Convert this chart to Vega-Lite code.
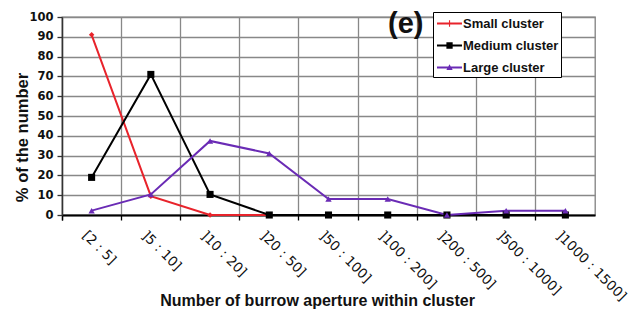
{
  "$schema": "https://vega.github.io/schema/vega-lite/v6.json",
  "width": 533,
  "height": 198,
  "autosize": {"type": "none"},
  "padding": {"left": 62, "top": 17, "right": 38, "bottom": 106},
  "background": "white",
  "config": {
    "view": {"stroke": "#808080", "strokeWidth": 1.3},
    "font": "Liberation Sans"
  },
  "title": {
    "text": "(e)",
    "orient": "top",
    "anchor": "start",
    "frame": "group",
    "offset": 0,
    "baseline": "middle",
    "dx": 326,
    "dy": 42,
    "fontSize": 29,
    "fontWeight": "bold",
    "color": "#111111"
  },
  "data": {
    "values": [
      {"bin": "[2 : 5]", "cluster": "Small cluster", "pct": 91},
      {"bin": "]5 : 10]", "cluster": "Small cluster", "pct": 9.5},
      {"bin": "]10 : 20]", "cluster": "Small cluster", "pct": 0},
      {"bin": "]20 : 50]", "cluster": "Small cluster", "pct": 0},
      {"bin": "[2 : 5]", "cluster": "Medium cluster", "pct": 19},
      {"bin": "]5 : 10]", "cluster": "Medium cluster", "pct": 71},
      {"bin": "]10 : 20]", "cluster": "Medium cluster", "pct": 10.4},
      {"bin": "]20 : 50]", "cluster": "Medium cluster", "pct": 0},
      {"bin": "]50 : 100]", "cluster": "Medium cluster", "pct": 0},
      {"bin": "]100 : 200]", "cluster": "Medium cluster", "pct": 0},
      {"bin": "]200 : 500]", "cluster": "Medium cluster", "pct": 0},
      {"bin": "]500 : 1000]", "cluster": "Medium cluster", "pct": 0},
      {"bin": "]1000 : 1500]", "cluster": "Medium cluster", "pct": 0},
      {"bin": "[2 : 5]", "cluster": "Large cluster", "pct": 2.2},
      {"bin": "]5 : 10]", "cluster": "Large cluster", "pct": 10.4},
      {"bin": "]10 : 20]", "cluster": "Large cluster", "pct": 37.4},
      {"bin": "]20 : 50]", "cluster": "Large cluster", "pct": 31.1},
      {"bin": "]50 : 100]", "cluster": "Large cluster", "pct": 8.1},
      {"bin": "]100 : 200]", "cluster": "Large cluster", "pct": 8.1},
      {"bin": "]200 : 500]", "cluster": "Large cluster", "pct": 0},
      {"bin": "]500 : 1000]", "cluster": "Large cluster", "pct": 2.2},
      {"bin": "]1000 : 1500]", "cluster": "Large cluster", "pct": 2.2}
    ]
  },
  "encoding": {
    "x": {
      "field": "bin",
      "type": "ordinal",
      "bandPosition": 0.5,
      "sort": ["[2 : 5]", "]5 : 10]", "]10 : 20]", "]20 : 50]", "]50 : 100]", "]100 : 200]", "]200 : 500]", "]500 : 1000]", "]1000 : 1500]"],
      "scale": {"type": "band", "paddingInner": 0, "paddingOuter": 0},
      "axis": {
        "title": "Number of burrow aperture within cluster",
        "titleFont": "Liberation Sans",
        "titleFontSize": 16,
        "titleFontWeight": "bold",
        "titleColor": "#111111",
        "titleBaseline": "middle",
        "titleX": 255,
        "titleY": 85,
        "labelAngle": 45,
        "labelAlign": "left",
        "labelBaseline": "top",
        "labelFont": "DejaVu Sans",
        "labelFontSize": 13.5,
        "labelColor": "#111111",
        "labelPadding": 8,
        "labelOffset": -2,
        "labelOverlap": false,
        "labelBound": false,
        "bandPosition": 0,
        "tickExtra": true,
        "grid": true,
        "gridColor": "#888888",
        "gridWidth": 1.3,
        "domainColor": "#000000",
        "domainWidth": 2,
        "tickColor": "#000000",
        "tickSize": 5,
        "tickWidth": 1.3
      }
    },
    "y": {
      "field": "pct",
      "type": "quantitative",
      "scale": {"domain": [0, 100], "nice": false},
      "axis": {
        "title": "% of the number",
        "titleFont": "Liberation Sans",
        "titleFontSize": 16.5,
        "titleFontWeight": "bold",
        "titleColor": "#111111",
        "titleY": 120,
        "titleX": -40,
        "titleAlign": "center",
        "titleBaseline": "middle",
        "values": [0, 10, 20, 30, 40, 50, 60, 70, 80, 90, 100],
        "labelFont": "DejaVu Sans",
        "labelFontSize": 11.5,
        "labelFontWeight": "bold",
        "labelColor": "#111111",
        "labelPadding": 4,
        "grid": true,
        "gridColor": "#888888",
        "gridWidth": 1.3,
        "domainColor": "#333333",
        "domainWidth": 1.3,
        "tickColor": "#333333",
        "tickSize": 5,
        "tickWidth": 1.3
      }
    },
    "color": {
      "field": "cluster",
      "type": "nominal",
      "scale": {
        "domain": ["Small cluster", "Medium cluster", "Large cluster"],
        "range": ["#e8232b", "#000000", "#6a2bb5"]
      }
    }
  },
  "layer": [
    {
      "mark": {"type": "line", "strokeWidth": 2}
    },
    {
      "transform": [{"filter": "datum.cluster === 'Small cluster'"}],
      "mark": {"type": "point", "shape": "diamond", "filled": true, "opacity": 1, "size": 30}
    },
    {
      "transform": [{"filter": "datum.cluster === 'Medium cluster'"}],
      "mark": {"type": "point", "shape": "square", "filled": true, "opacity": 1, "size": 50}
    },
    {
      "transform": [{"filter": "datum.cluster === 'Large cluster'"}],
      "mark": {"type": "point", "shape": "triangle-up", "filled": true, "opacity": 1, "size": 40}
    },
    {
      "mark": {"type": "point", "filled": true, "opacity": 0},
      "encoding": {
        "shape": {
          "field": "cluster",
          "type": "nominal",
          "scale": {
            "domain": ["Small cluster", "Medium cluster", "Large cluster"],
            "range": [
              "M-0.79,-0.1H1.84V0.1H-0.79Z M0.47,-0.33H0.59V0.33H0.47Z",
              "M-0.79,-0.1H1.84V0.1H-0.79Z M0.2,-0.33H0.86V0.33H0.2Z",
              "M-0.79,-0.1H1.84V0.1H-0.79Z M0.53,-0.33L0.86,0.25H0.2Z"
            ]
          },
          "legend": {
            "title": null,
            "orient": "none",
            "legendX": 371,
            "legendY": -5,
            "padding": 2,
            "strokeColor": "#000000",
            "fillColor": "#ffffff",
            "symbolSize": 361,
            "symbolOpacity": 1,
            "symbolStrokeWidth": 0,
            "labelFont": "Liberation Sans",
            "labelFontSize": 13,
            "labelFontWeight": "bold",
            "labelColor": "#111111",
            "labelOffset": 9,
            "labelExpr": "datum.label + '\u00a0\u00a0\u00a0\u00a0\u00a0\u00a0\u00a0\u00a0\u00a0\u00a0\u00a0\u00a0'",
            "rowPadding": 5
          }
        }
      }
    }
  ]
}
